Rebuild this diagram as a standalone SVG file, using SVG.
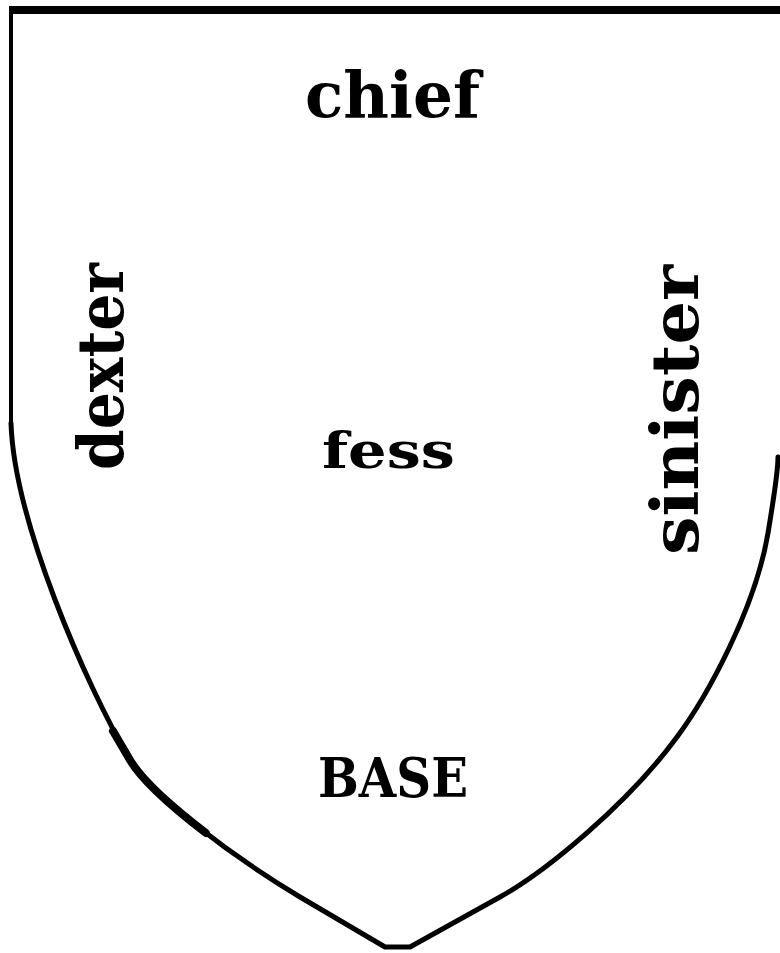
<svg xmlns="http://www.w3.org/2000/svg" width="780" height="953" viewBox="0 0 780 953">
<style>
.lbl{font-family:"DejaVu Serif","Liberation Serif",serif;font-weight:bold;fill:#000}
.edge{fill:none;stroke:#000;stroke-linejoin:round;stroke-linecap:round}
</style>
<rect width="780" height="953" fill="#fff"/>
<g id="shield">
<rect x="9" y="6" width="771" height="8" fill="#000"/>
<rect x="9" y="6" width="4" height="418" fill="#000"/>
<path class="edge" stroke-width="5" d="M11,423 C14,520 85,683 130,760 C150,794 230,855 300,897 L385,947 L410,947 L500,897 C545,872 627,805 677,737 C706,698 755,610 768,533 C774,497 778,470 778,457"/>
<path class="edge" stroke-width="8" d="M113,731 L130,760 C141,778.7 170.15,805.57 205.8,832.95"/>
</g>
<g id="chief"><text class="lbl" x="305" y="117" font-size="64" textLength="175" lengthAdjust="spacingAndGlyphs">chief</text></g>
<g id="fess"><text class="lbl" x="322" y="468" font-size="50" textLength="133" lengthAdjust="spacingAndGlyphs">fess</text></g>
<g id="base"><text class="lbl" x="318" y="797" font-size="54" textLength="150" lengthAdjust="spacingAndGlyphs">BASE</text></g>
<g id="dexter"><text class="lbl" transform="translate(123,470) rotate(-90)" x="0" y="0" font-size="64" textLength="207" lengthAdjust="spacingAndGlyphs">dexter</text></g>
<g id="sinister"><text class="lbl" transform="translate(698,555) rotate(-90)" x="0" y="0" font-size="66" textLength="290" lengthAdjust="spacingAndGlyphs">sinister</text></g>
</svg>
